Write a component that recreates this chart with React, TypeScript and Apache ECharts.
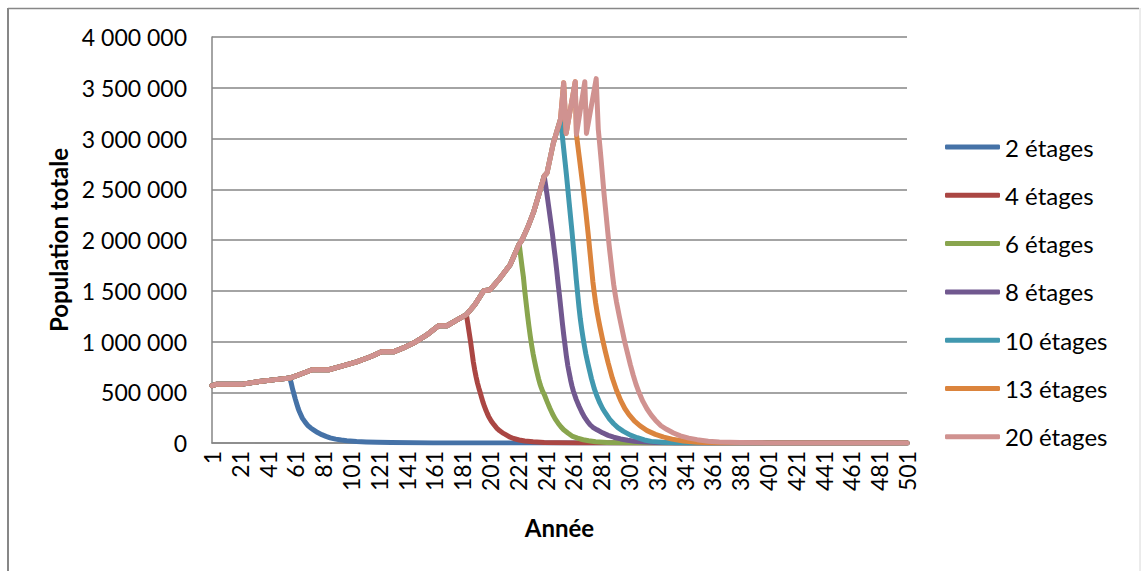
import React, { useEffect, useRef } from "react";
import * as echarts from "echarts";

// ---- Data ----
const seriesNames = ["2 étages", "4 étages", "6 étages", "8 étages", "10 étages", "13 étages", "20 étages"];
const seriesColors = ["#4572A7", "#AA4643", "#89A54E", "#71588F", "#4198AF", "#DB843D", "#D09290"];

const xTickLabels = ["1", "21", "41", "61", "81", "101", "121", "141", "161", "181", "201", "221", "241",
  "261", "281", "301", "321", "341", "361", "381", "401", "421", "441", "461", "481", "501"];

// common growth trunk (year, population)
const trunkYears = [1, 4, 23, 35, 45, 57, 65, 73, 85, 95, 105, 115, 123, 132, 140, 146, 155, 164, 170, 177, 184,
  190, 196.5, 201, 208, 215.5, 222, 224, 228, 232.5, 236, 240, 242, 246.5, 251.7, 254, 255.8, 262.3, 263.2,
  269.2, 270.4, 277.4, 278.9];
const trunkValues = [565000, 578000, 580000, 605000, 622000, 640000, 680000, 722000, 722000, 760000, 800000,
  850000, 900000, 900000, 945000, 985000, 1060000, 1155000, 1155000, 1210000, 1265000, 1360000, 1500000,
  1510000, 1620000, 1757000, 1960000, 2000000, 2120000, 2280000, 2440000, 2630000, 2660000, 2950000, 3190000,
  3550000, 3050000, 3560000, 3040000, 3560000, 3050000, 3590000, 3090000];

// index in the trunk where each series breaks off
const cutIndex = [5, 20, 26, 31, 34, 38, 42];

const decay2Years = [58, 59, 60, 61, 62, 63, 64, 66, 68, 70, 72, 74, 77, 80, 83, 86, 90, 94, 98, 105, 112, 120, 130, 145, 160, 200, 501];
const decay2Values = [590000, 530000, 480000, 430000, 385000, 340000, 305000, 245000, 205000, 172000, 148000, 130000,
  103000, 82000, 65000, 50000, 38000, 29000, 23000, 15000, 10000, 6500, 4000, 2000, 1000, 0, 0];

const decay4Years = [185, 186, 187, 188, 189, 190, 191, 192, 193, 194, 195, 196, 197, 198, 199, 200, 202, 204, 206, 208,
  210, 212, 215, 218, 222, 226, 232, 240, 250, 265, 290, 501];
const decay4Values = [1180000, 1090000, 1000000, 900000, 800000, 720000, 650000, 590000, 540000, 495000, 445000, 400000,
  360000, 325000, 292000, 262000, 215000, 178000, 145000, 120000, 100000, 85000, 60000, 44000, 30000, 20000, 12000,
  6000, 3000, 1000, 0, 0];

const decay6Years = [223, 224, 225, 226, 227, 228, 229, 230, 231, 232, 233, 234, 235, 236, 237, 238, 239, 240, 242, 244,
  246, 248, 250, 252, 254, 257, 260, 264, 268, 272, 277, 285, 295, 310, 501];
const decay6Values = [1850000, 1740000, 1640000, 1500000, 1380000, 1260000, 1150000, 1050000, 960000, 880000, 810000,
  745000, 685000, 630000, 580000, 540000, 505000, 480000, 410000, 345000, 285000, 235000, 195000, 160000, 130000,
  98000, 68000, 48000, 32000, 22000, 12000, 5000, 2000, 0, 0];

const decay8Years = [241, 242, 243, 244, 245, 246, 247, 248, 249, 250, 251, 252, 253, 254, 255, 256, 257, 258, 259, 260,
  261, 263, 265, 267, 269, 271, 273, 275, 278, 282, 286, 290, 295, 300, 305, 310, 320, 335, 350, 501];
const decay8Values = [2540000, 2450000, 2350000, 2250000, 2150000, 2050000, 1930000, 1820000, 1700000, 1570000,
  1450000, 1320000, 1190000, 1070000, 960000, 850000, 760000, 690000, 620000, 560000, 510000, 430000, 365000,
  305000, 255000, 215000, 180000, 155000, 130000, 100000, 75000, 57000, 40000, 27000, 18000, 12000, 5000, 1000, 0, 0];

const decay10Years = [253, 254, 255, 256, 257, 258, 259, 260, 261, 262, 263, 264, 265, 266, 267, 268, 269, 270, 271, 272,
  274, 276, 278, 280, 282, 284, 287, 290, 293, 297, 302, 307, 312, 317, 325, 335, 350, 501];
const decay10Values = [3030000, 2900000, 2770000, 2640000, 2500000, 2360000, 2220000, 2080000, 1930000, 1780000,
  1620000, 1480000, 1340000, 1220000, 1120000, 1030000, 950000, 875000, 810000, 750000, 635000, 535000, 460000,
  395000, 340000, 296000, 235000, 190000, 152000, 115000, 78000, 52000, 30000, 16000, 7000, 2000, 0, 0];

const decay13Years = [264, 265, 266, 267, 268, 269, 270, 271, 272, 273, 274, 275, 276, 277, 278, 279, 280, 282, 284, 286,
  289, 292, 295, 298, 301, 305, 309, 314, 320, 326, 332, 340, 350, 365, 380, 501];
const decay13Values = [2950000, 2840000, 2730000, 2620000, 2510000, 2390000, 2270000, 2140000, 2010000, 1870000,
  1730000, 1590000, 1480000, 1380000, 1295000, 1220000, 1150000, 1020000, 900000, 790000, 640000, 520000, 420000,
  340000, 280000, 215000, 168000, 122000, 85000, 58000, 38000, 20000, 7000, 1000, 0, 0];

const decay20Years = [280, 281, 282, 283, 284, 285, 286, 287, 288, 289, 290, 291, 292, 293, 294, 296, 298, 300, 302, 304,
  306, 308, 311, 314, 317, 320, 324, 328, 333, 338, 344, 350, 358, 366, 381, 400, 420, 501];
const decay20Values = [2930000, 2780000, 2620000, 2460000, 2320000, 2180000, 2040000, 1910000, 1790000, 1670000,
  1560000, 1470000, 1390000, 1320000, 1250000, 1120000, 990000, 880000, 770000, 670000, 580000, 505000, 410000,
  335000, 275000, 225000, 170000, 135000, 98000, 70000, 48000, 33000, 18000, 10000, 4000, 1000, 0, 0];

const decayYears = [decay2Years, decay4Years, decay6Years, decay8Years, decay10Years, decay13Years, decay20Years];
const decayValues = [decay2Values, decay4Values, decay6Values, decay8Values, decay10Values, decay13Values, decay20Values];

const FONT = "Lato";

function buildSeries(k: number): number[][] {
  const pts: number[][] = [];
  for (let i = 0; i <= cutIndex[k]; i++) pts.push([trunkYears[i], trunkValues[i]]);
  const ys = decayYears[k];
  const vs = decayValues[k];
  for (let j = 0; j < ys.length; j++) pts.push([ys[j], vs[j]]);
  return pts;
}

function fmt(v: number): string {
  return String(v).replace(/\B(?=(\d{3})+(?!\d))/g, " ");
}

export default function App() {
  const ref = useRef<HTMLDivElement>(null);
  useEffect(() => {
    if (!ref.current) return;
    const chart = echarts.init(ref.current, undefined, { renderer: "svg" });
    const option: any = {
      animation: false,
      backgroundColor: "#ffffff",
      textStyle: { fontFamily: FONT },
      grid: { left: 212, right: 234, top: 37, bottom: 128, containLabel: false },
      xAxis: {
        type: "value",
        min: 1,
        max: 501,
        axisLine: { show: true, lineStyle: { color: "#868686", width: 1.5 } },
        axisTick: { show: false },
        splitLine: { show: false },
        axisLabel: {
          customValues: xTickLabels.map(Number),
          rotate: 90,
          fontSize: 23,
          color: "#000",
          fontFamily: FONT,
          margin: 8,
          formatter: (v: number) => String(v),
        },
        name: "Année",
        nameLocation: "middle",
        nameGap: 72,
        nameTextStyle: { fontSize: 24, fontWeight: "bold", color: "#000", fontFamily: FONT },
      },
      yAxis: {
        type: "value",
        min: 0,
        max: 4000000,
        interval: 500000,
        axisLine: { show: true, lineStyle: { color: "#868686", width: 1.5 } },
        axisTick: { show: false },
        splitLine: { show: true, lineStyle: { color: "#868686", width: 1.5 } },
        axisLabel: { fontSize: 23, color: "#000", fontFamily: FONT, margin: 25, formatter: (v: number) => fmt(v) },
        name: "Population totale",
        nameLocation: "middle",
        nameGap: 140,
        nameTextStyle: { fontSize: 24, fontWeight: "bold", color: "#000", fontFamily: FONT },
      },
      legend: {
        orient: "vertical",
        left: 940,
        top: 130,
        icon: "roundRect",
        itemWidth: 55,
        itemHeight: 5,
        itemGap: 24.3,
        textStyle: { fontSize: 24, color: "#000", fontFamily: FONT },
        data: seriesNames,
      },
      graphic: [
        { type: "line", shape: { x1: 8, y1: 8, x2: 8, y2: 571 }, style: { stroke: "#878787", lineWidth: 2 } },
        { type: "line", shape: { x1: 8, y1: 8.5, x2: 1139, y2: 8.5 }, style: { stroke: "#878787", lineWidth: 1.5 } },
        { type: "line", shape: { x1: 1140, y1: 8, x2: 1140, y2: 571 }, style: { stroke: "#d8d8d8", lineWidth: 1 } },
      ],
      series: seriesNames.map((name, k) => ({
        name,
        type: "line",
        data: buildSeries(k),
        showSymbol: false,
        symbol: "none",
        smooth: false,
        color: seriesColors[k],
        lineStyle: { width: 5, color: seriesColors[k], cap: "round", join: "round" },
        z: 2 + k,
      })),
    };
    chart.setOption(option);
    return () => chart.dispose();
  }, []);
  return <div ref={ref} style={{ position: "fixed", left: 0, top: 0, width: 1141, height: 571 }} />;
}
